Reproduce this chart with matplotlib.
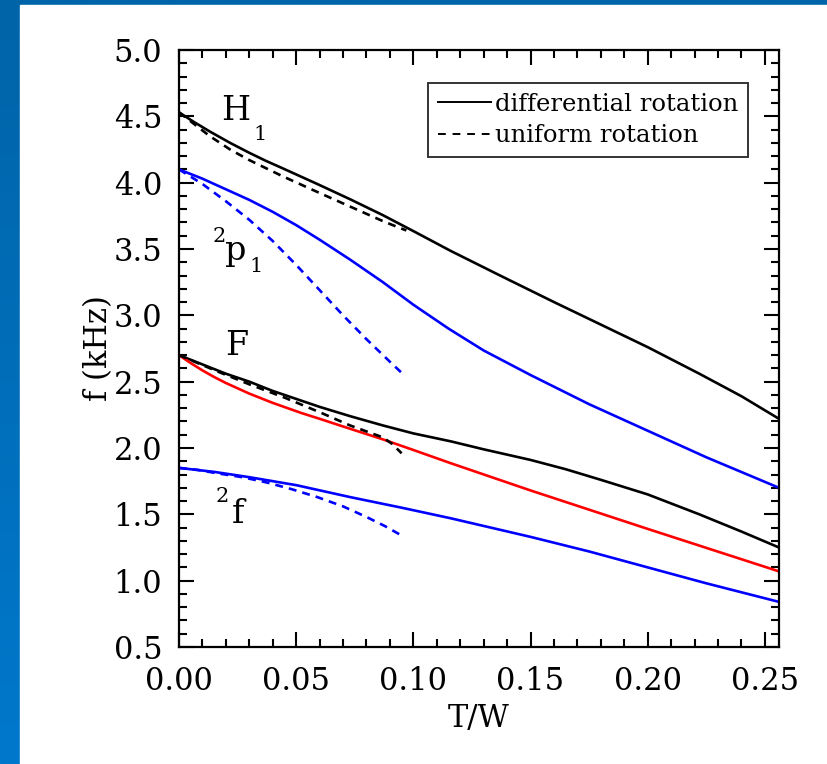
import numpy as np
import matplotlib
matplotlib.use("Agg")
import matplotlib.pyplot as plt
from matplotlib.patches import Rectangle
from matplotlib.lines import Line2D
from matplotlib.colors import LinearSegmentedColormap
from matplotlib.ticker import MultipleLocator, FormatStrFormatter

# ---- data ----
h1_diff_x = [0.000, 0.0066, 0.0132, 0.0218, 0.030, 0.037, 0.044, 0.059, 0.073, 0.087, 0.100, 0.116,
             0.137, 0.160, 0.180, 0.200, 0.222, 0.240, 0.256]
h1_diff_y = [4.53, 4.455, 4.385, 4.30, 4.225, 4.165, 4.11, 3.99, 3.875, 3.755, 3.635, 3.485,
             3.30, 3.10, 2.93, 2.76, 2.56, 2.39, 2.22]
h1_unif_x = [0.000, 0.0066, 0.0132, 0.0218, 0.030, 0.044, 0.059, 0.073, 0.087, 0.094, 0.097]
h1_unif_y = [4.53, 4.44, 4.35, 4.25, 4.17, 4.05, 3.93, 3.82, 3.71, 3.66, 3.64]

p1_diff_x = [0.000, 0.010, 0.020, 0.030, 0.040, 0.050, 0.060, 0.073, 0.087, 0.100, 0.115,
             0.130, 0.150, 0.175, 0.200, 0.225, 0.256]
p1_diff_y = [4.10, 4.03, 3.95, 3.87, 3.78, 3.68, 3.57, 3.42, 3.25, 3.08, 2.90,
             2.735, 2.55, 2.33, 2.13, 1.93, 1.70]
p1_unif_x = [0.000, 0.010, 0.020, 0.030, 0.040, 0.050, 0.060, 0.070, 0.080, 0.090, 0.096]
p1_unif_y = [4.10, 3.99, 3.86, 3.72, 3.56, 3.38, 3.19, 3.00, 2.82, 2.65, 2.55]

f_diff_x = [0.000, 0.010, 0.020, 0.030, 0.040, 0.050, 0.060, 0.073, 0.087, 0.100, 0.116,
            0.130, 0.150, 0.165, 0.180, 0.200, 0.222, 0.240, 0.256]
f_diff_y = [2.70, 2.63, 2.56, 2.50, 2.43, 2.37, 2.31, 2.24, 2.17, 2.11, 2.05,
            1.99, 1.91, 1.84, 1.76, 1.65, 1.50, 1.37, 1.25]
f_unif_x = [0.000, 0.008, 0.016, 0.030, 0.045, 0.060, 0.073, 0.087, 0.091, 0.095]
f_unif_y = [2.70, 2.64, 2.58, 2.48, 2.38, 2.27, 2.17, 2.08, 2.03, 1.96]
f_red_x = [0.000, 0.005, 0.010, 0.015, 0.020, 0.030, 0.040, 0.052, 0.060, 0.073, 0.087, 0.100, 0.116,
           0.150, 0.200, 0.256]
f_red_y = [2.70, 2.64, 2.585, 2.535, 2.49, 2.41, 2.34, 2.265, 2.22, 2.145, 2.065, 1.985, 1.885,
           1.68, 1.39, 1.07]

f2_diff_x = [0.000, 0.015, 0.030, 0.050, 0.073, 0.095, 0.116, 0.150, 0.175, 0.200, 0.225, 0.256]
f2_diff_y = [1.85, 1.82, 1.78, 1.72, 1.63, 1.55, 1.47, 1.33, 1.22, 1.10, 0.98, 0.84]
f2_unif_x = [0.000, 0.008, 0.016, 0.027, 0.0375, 0.048, 0.059, 0.070, 0.080, 0.088, 0.096]
f2_unif_y = [1.85, 1.835, 1.81, 1.78, 1.74, 1.69, 1.63, 1.56, 1.48, 1.41, 1.33]

x_ticks = [0.00, 0.05, 0.10, 0.15, 0.20, 0.25]
y_ticks = [0.5, 1.0, 1.5, 2.0, 2.5, 3.0, 3.5, 4.0, 4.5, 5.0]

# ---- figure ----
fig = plt.figure(figsize=(8.28, 7.64), dpi=100)
W, H = 828, 764

bg = fig.add_axes([0, 0, 1, 1], zorder=-10)
grad = np.linspace(0, 1, 256).reshape(-1, 1)
cm = LinearSegmentedColormap.from_list("bgblue", ["#0064a8", "#0078cc"])
bg.imshow(grad, aspect="auto", cmap=cm, extent=[0, 1, 0, 1], origin="upper")
bg.add_patch(Rectangle((20 / W, 0), 1, (H - 5) / H, color="white", transform=bg.transAxes))
bg.set_xlim(0, 1)
bg.set_ylim(0, 1)
bg.axis("off")

ax = fig.add_axes([179 / W, 1 - 647 / H, (779 - 179) / W, (647 - 50) / H])
ax.set_facecolor("none")

serif = "DejaVu Serif"
lw = 1.9
dash = (0, (3, 2.3))

ax.plot(h1_diff_x, h1_diff_y, color="black", lw=lw)
ax.plot(h1_unif_x, h1_unif_y, color="black", lw=lw, linestyle=dash)
ax.plot(p1_diff_x, p1_diff_y, color="#0000ff", lw=lw)
ax.plot(p1_unif_x, p1_unif_y, color="#0000ff", lw=lw, linestyle=dash)
ax.plot(f_diff_x, f_diff_y, color="black", lw=lw)
ax.plot(f_red_x, f_red_y, color="#ff0000", lw=lw)
ax.plot(f_unif_x, f_unif_y, color="black", lw=lw, linestyle=dash)
ax.plot(f2_diff_x, f2_diff_y, color="#0000ff", lw=lw)
ax.plot(f2_unif_x, f2_unif_y, color="#0000ff", lw=lw, linestyle=dash)

ax.set_xlim(0, 0.2560)
ax.set_ylim(0.5, 5.0)
ax.set_xticks(x_ticks)
ax.set_yticks(y_ticks)
ax.xaxis.set_minor_locator(MultipleLocator(0.01))
ax.yaxis.set_minor_locator(MultipleLocator(0.1))
ax.xaxis.set_major_formatter(FormatStrFormatter("%.2f"))
ax.yaxis.set_major_formatter(FormatStrFormatter("%.1f"))
ax.tick_params(which="both", direction="in", top=True, right=True, width=1.5, colors="black")
ax.tick_params(which="major", length=11, labelsize=22)
ax.tick_params(axis="y", which="major", pad=12)
ax.tick_params(axis="x", which="major", pad=14)
ax.tick_params(which="minor", length=5.5)
for lab in ax.get_xticklabels() + ax.get_yticklabels():
    lab.set_family(serif)
for s in ax.spines.values():
    s.set_linewidth(1.6)

ax.set_xlabel("T/W", family=serif, fontsize=22, labelpad=4)
ax.set_ylabel("f (kHz)", family=serif, fontsize=22, labelpad=0)

# legend
handles = [Line2D([], [], color="black", lw=1.4),
           Line2D([], [], color="black", lw=1.4, linestyle=(0, (4, 3.5)))]
leg = ax.legend(handles, ["differential rotation", "uniform rotation"],
                loc="upper right", bbox_to_anchor=((748 - 179) / 600, (647 - 83) / 597),
                borderaxespad=0.0,
                prop={"family": serif, "size": 17.5}, frameon=True, fancybox=False,
                edgecolor="black", handlelength=2.2, handletextpad=0.15,
                borderpad=0.4, labelspacing=0.35)
leg.get_frame().set_linewidth(1.4)

# curve labels
big = 24
small = 15
ax.text(0.0243, 4.47, "H", family=serif, fontsize=big, ha="center", va="baseline")
ax.text(0.0345, 4.32, "1", family=serif, fontsize=small, ha="center", va="baseline")
ax.text(0.0171, 3.55, "2", family=serif, fontsize=small, ha="center", va="baseline")
ax.text(0.0243, 3.42, "p", family=serif, fontsize=big, ha="center", va="baseline")
ax.text(0.0330, 3.33, "1", family=serif, fontsize=small, ha="center", va="baseline")
ax.text(0.0247, 2.70, "F", family=serif, fontsize=big, ha="center", va="baseline")
ax.text(0.0183, 1.59, "2", family=serif, fontsize=small, ha="center", va="baseline")
ax.text(0.0250, 1.435, "f", family=serif, fontsize=big, ha="center", va="baseline")

fig.savefig("out.png", dpi=100)
